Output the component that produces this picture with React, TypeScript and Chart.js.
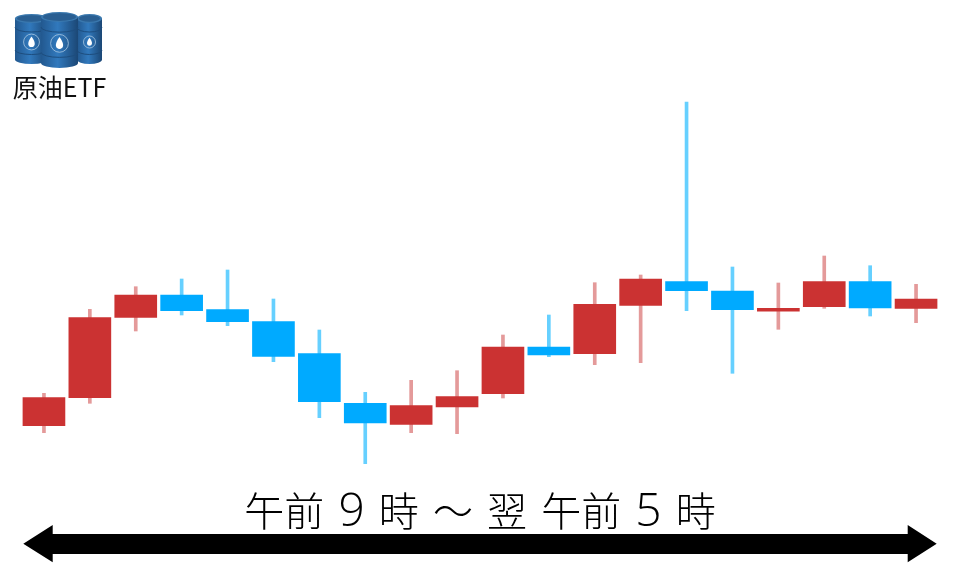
import React, { useEffect, useRef } from "react";
import { Chart, registerables } from "chart.js";

Chart.register(...registerables);

const hours = ["9時","10時","11時","12時","13時","14時","15時","16時","17時","18時","19時","20時","21時","22時","23時","0時","1時","2時","3時","4時"];
const opens = [141.3,169.3,249.7,272,257.3,245.3,213.3,163.7,142.7,160,173.3,220,213.3,261.7,285.3,276,255.9,260.3,285.3,258.7];
const closes = [169.3,249.3,272,256.3,245.3,210.7,165.3,144,161.3,170.3,220,212,262.7,288,276.3,257.3,258.7,285.3,259,268];
const highs = [173.7,257.7,280.3,288,297,268,237,174.7,186.7,196.3,232,252,284.3,292,465,300,284,311,301.3,282.7];
const lows = [134.3,163.7,236,252,241.3,205.3,149.3,103.3,134.3,133.3,169,210.3,202.3,204.3,256.3,193.7,237.7,258.7,251,244.3];

const RED = "#cb3232";
const BLUE = "#00aaff";
const RED_WICK = "#e49a9a";
const BLUE_WICK = "#66d0ff";
const isUp = (i: number) => closes[i] >= opens[i];

const bodies = opens.map((o, i) => [Math.min(o, closes[i]), Math.max(o, closes[i])]);
const wicks = lows.map((l, i) => [l, highs[i]]);

const titleParts = ["午前", "9", "時", "〜", "翌", "午前", "5", "時"];
const badge = "原油ETF";

function Barrel({ x, y, w, h }: { x: number; y: number; w: number; h: number }) {
  const ry = h * 0.09;
  const cx = x + w / 2;
  const cy = y + h * 0.56;
  const hoops = [0.27, 0.72].map((f) => y + h * f);
  return (
    <g>
      <path d={`M${x} ${y + ry} L${x} ${y + h - ry} A${w / 2} ${ry} 0 0 0 ${x + w} ${y + h - ry} L${x + w} ${y + ry} Z`} fill="url(#steel)" />
      <ellipse cx={cx} cy={y + ry} rx={w / 2} ry={ry} fill="#3a78ae" />
      <ellipse cx={cx} cy={y + ry} rx={w / 2 - 2} ry={ry - 1.2} fill="#2a5f92" />
      {hoops.map((hy) => (
        <path key={hy} d={`M${x} ${hy} A${w / 2} ${ry} 0 0 0 ${x + w} ${hy}`} fill="none" stroke="#1d4d7e" strokeWidth={1} />
      ))}
      <circle cx={cx} cy={cy} r={w * 0.24} fill="none" stroke="#a9c8e2" strokeWidth={0.8} />
      <path d={`M${cx} ${cy - w * 0.17} C${cx + w * 0.16} ${cy + w * 0.04} ${cx + w * 0.1} ${cy + w * 0.15} ${cx} ${cy + w * 0.15} C${cx - w * 0.1} ${cy + w * 0.15} ${cx - w * 0.16} ${cy + w * 0.04} ${cx} ${cy - w * 0.17} Z`} fill="#ffffff" />
    </g>
  );
}

export default function App() {
  const ref = useRef<HTMLCanvasElement | null>(null);

  useEffect(() => {
    if (!ref.current) return;
    const chart = new Chart(ref.current, {
      type: "bar",
      data: {
        labels: hours,
        datasets: [
          {
            label: "高安",
            data: wicks as any,
            order: 2,
            grouped: false,
            barThickness: 3,
            backgroundColor: (c: any) => (isUp(c.dataIndex) ? RED_WICK : BLUE_WICK),
          },
          {
            label: "始終",
            data: bodies as any,
            order: 1,
            grouped: false,
            barThickness: 42,
            backgroundColor: (c: any) => (isUp(c.dataIndex) ? RED : BLUE),
          },
        ] as any,
      },
      options: {
        animation: false,
        responsive: false,
        layout: { padding: { left: 21, right: 21, top: 0, bottom: 0 } },
        plugins: { legend: { display: false }, tooltip: { enabled: false }, title: { display: false } },
        scales: {
          x: { display: false, offset: true, grid: { display: false } },
          y: { display: false, min: 0, max: 567, grid: { display: false } },
        },
      },
    });
    return () => chart.destroy();
  }, []);

  return (
    <div style={{ position: "absolute", left: 0, top: 0, width: 960, height: 567, overflow: "hidden", background: "#fff" }}>
      <canvas ref={ref} width={960} height={567} style={{ display: "block", filter: "blur(0.45px)" }} />
      <svg width={960} height={567} style={{ position: "absolute", left: 0, top: 0 }}>
        <defs>
          <linearGradient id="steel" x1="0" x2="1" y1="0" y2="0">
            <stop offset="0" stopColor="#22588f" />
            <stop offset="0.45" stopColor="#3179bd" />
            <stop offset="1" stopColor="#1b4775" />
          </linearGradient>
        </defs>
        <g style={{ filter: "blur(0.4px)" }}>
          <Barrel x={15} y={14} w={33} h={50} />
          <Barrel x={77} y={14} w={25} h={50} />
          <Barrel x={41} y={12} w={37} h={56} />
        </g>
        <polygon points="23.3,543.8 52.7,525 52.7,534 907.7,534 907.7,525 936.7,543.8 907.7,562.3 907.7,554 52.7,554 52.7,562.3" fill="#000" />
      </svg>
      <div style={{ position: "absolute", left: 0, top: 69, width: 119, textAlign: "center", font: "25px 'Noto Sans CJK JP'", lineHeight: "34px", color: "#111" }}>{badge}</div>
      <div style={{ position: "absolute", left: 0, top: 479, width: 960, textAlign: "center", font: "300 40px 'Noto Sans CJK JP'", lineHeight: "58px", wordSpacing: 5.3, color: "#000", whiteSpace: "nowrap" }}>
        {titleParts.map((p, i) => (
          <React.Fragment key={i}>
            {i > 0 ? " " : ""}
            {/\d/.test(p) ? <span style={{ font: "300 46px 'Open Sans'", lineHeight: "58px" }}>{p}</span> : p}
          </React.Fragment>
        ))}
      </div>
    </div>
  );
}
